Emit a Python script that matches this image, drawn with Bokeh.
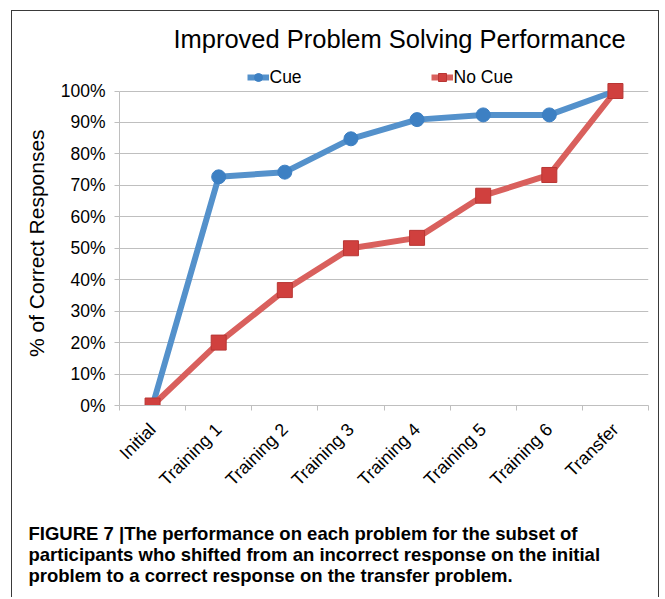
import math
from bokeh.plotting import figure
from bokeh.models import (Range1d, LinearAxis, FixedTicker, Legend, LegendItem, Label,
                          Title, CustomJSTickFormatter)
from bokeh.embed import file_html
from bokeh.resources import INLINE

# ---- data ----
categories = ["Initial", "Training 1", "Training 2", "Training 3",
              "Training 4", "Training 5", "Training 6", "Transfer"]
cue = [0, 72.7, 74.2, 84.8, 90.9, 92.4, 92.4, 100]
no_cue = [0, 20.0, 36.7, 50.0, 53.3, 66.7, 73.3, 100]
y_ticks = [0, 10, 20, 30, 40, 50, 60, 70, 80, 90, 100]
title_text = "Improved Problem Solving Performance"
y_label = "% of Correct Responses"
series_names = ["Cue", "No Cue"]
caption_lines = [
    "FIGURE 7 |The performance on each problem for the subset of",
    "participants who shifted from an incorrect response on the initial",
    "problem to a correct response on the transfer problem.",
]

FONT = "Liberation Sans"
BLUE_LINE = "#5491CB"
BLUE_MARK = "#3D80C3"
RED_LINE = "#D9605D"
RED_MARK = "#D0403E"
GRID = "#BFBFBF"

# layout constants (pixels)
W, H = 648, 587
FRAME_H = 394          # frame from top of figure down to the 0% line
PLOT_H = 314.5         # pixel height of the 0..100 % part
n = len(categories)
xs = [i + 0.5 for i in range(n)]
y_top = y_ticks[-1] * FRAME_H / PLOT_H

p = figure(width=W, height=H, x_range=Range1d(0, n), y_range=Range1d(0, y_top),
           title=None, output_backend="svg", toolbar_location=None,
           x_axis_location=None, y_axis_location=None,
           min_border_left=107, min_border_right=12, min_border_top=0,
           min_border_bottom=H - FRAME_H)
p.outline_line_color = None
p.background_fill_color = "white"
p.border_fill_color = "white"
p.margin = (10, 0, 0, 11)
p.styles = {"border-left": "1.5px solid #3A3A3A",
            "border-top": "1.5px solid #3A3A3A",
            "border-right": "1.5px solid #3A3A3A"}

# y axis (axis title is a side Title so that it can be centred on the 0-100 part)
ya = LinearAxis(ticker=FixedTicker(ticks=y_ticks), bounds=(y_ticks[0], y_ticks[-1]),
                formatter=CustomJSTickFormatter(code="return tick + '%';"))
ya.axis_line_color = GRID
ya.major_tick_line_color = GRID
ya.major_tick_out = 5
ya.major_tick_in = 0
ya.minor_tick_line_color = None
ya.major_label_text_font = FONT
ya.major_label_text_font_size = "17.5px"
ya.major_label_text_color = "black"
ya.major_label_standoff = 9
p.add_layout(ya, "left")
p.add_layout(Title(text=y_label, align="left", offset=48.5, standoff=20,
                   text_font=FONT, text_font_size="21px", text_font_style="normal",
                   text_color="black"), "left")

# x axis: labels at category centres, small ticks at category boundaries
xa = LinearAxis(ticker=FixedTicker(ticks=xs, minor_ticks=list(range(n + 1))),
                formatter=CustomJSTickFormatter(args=dict(labels=categories),
                                                code="return labels[Math.floor(tick)];"))
xa.axis_line_color = GRID
xa.major_tick_line_color = None
xa.minor_tick_line_color = GRID
xa.minor_tick_out = 5
xa.minor_tick_in = 0
xa.major_label_orientation = math.pi / 4
xa.major_label_text_font = FONT
xa.major_label_text_font_size = "18px"
xa.major_label_text_color = "black"
xa.major_label_standoff = 15
p.add_layout(xa, "below")

# blank spacer between the category labels and the caption (one white tick, no label)
p.extra_x_ranges = {"spacer": Range1d(0, 1)}
spacer = LinearAxis(x_range_name="spacer", ticker=FixedTicker(ticks=[0]),
                    formatter=CustomJSTickFormatter(code="return '';"))
spacer.axis_line_color = None
spacer.major_tick_line_color = "white"
spacer.minor_tick_line_color = None
spacer.major_tick_out = 22
spacer.major_tick_in = 0
spacer.major_label_standoff = 0
spacer.major_label_text_font_size = "1px"
p.add_layout(spacer, "below")

p.ygrid.ticker = FixedTicker(ticks=y_ticks)
p.ygrid.grid_line_color = GRID
p.ygrid.grid_line_width = 1.2
p.xgrid.visible = False

# series
l_cue = p.line(xs, cue, line_width=6, color=BLUE_LINE, line_join="round")
s_cue = p.scatter(xs, cue, marker="circle", size=14, fill_color=BLUE_MARK, line_color=BLUE_MARK)
l_no = p.line(xs, no_cue, line_width=6, color=RED_LINE, line_join="round")
s_no = p.scatter(xs, no_cue, marker="square", size=15, fill_color=RED_MARK, line_color="#B83634")

# legend (inside the frame, above the 100 % line)
leg = Legend(items=[LegendItem(label=series_names[0], renderers=[l_cue, s_cue]),
                    LegendItem(label=series_names[1], renderers=[l_no, s_no])],
             location=(127.5, 317.5), orientation="horizontal",
             glyph_width=22, glyph_height=20, label_height=20, label_standoff=1,
             padding=0, margin=0, spacing=129,
             border_line_alpha=0, background_fill_alpha=0,
             label_text_font=FONT, label_text_font_size="17.5px", label_text_color="black")
p.add_layout(leg, "center")

# chart title
p.add_layout(Label(x=280, y=367, x_units="screen", y_units="screen", text=title_text,
                   text_align="center", text_baseline="alphabetic",
                   text_font=FONT, text_font_size="25.5px", text_color="black"))

# caption
for line in caption_lines:
    p.add_layout(Title(text=line, align="left", offset=-91, standoff=-2.5,
                       text_font=FONT, text_font_size="18.5px", text_font_style="bold",
                       text_color="black"), "below")

open("out.html", "w").write(file_html(p, INLINE))
